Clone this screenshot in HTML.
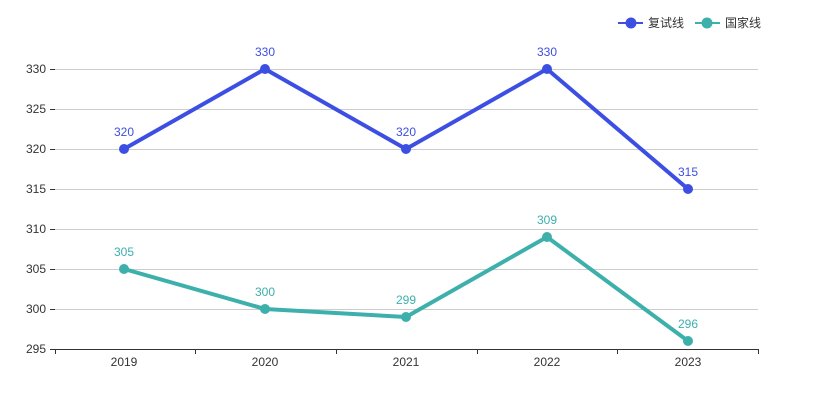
<!DOCTYPE html>
<html><head><meta charset="utf-8"><style>body{margin:0;background:#fff}svg{display:block}text{font-family:"Liberation Sans","Noto Sans CJK SC",sans-serif}</style></head><body>
<svg width="817" height="404" xmlns="http://www.w3.org/2000/svg">
<g stroke="#ccc" stroke-width="1">
<line x1="55" x2="758" y1="69.5" y2="69.5"/><line x1="55" x2="758" y1="109.5" y2="109.5"/><line x1="55" x2="758" y1="149.5" y2="149.5"/><line x1="55" x2="758" y1="189.5" y2="189.5"/><line x1="55" x2="758" y1="229.5" y2="229.5"/><line x1="55" x2="758" y1="269.5" y2="269.5"/><line x1="55" x2="758" y1="309.5" y2="309.5"/>
</g>
<g stroke="#333" stroke-width="1">
<line x1="55" x2="758" y1="349.5" y2="349.5"/>
<line x1="55.5" x2="55.5" y1="349" y2="354"/><line x1="195.5" x2="195.5" y1="349" y2="354"/><line x1="336.5" x2="336.5" y1="349" y2="354"/><line x1="477.5" x2="477.5" y1="349" y2="354"/><line x1="617.5" x2="617.5" y1="349" y2="354"/><line x1="758.5" x2="758.5" y1="349" y2="354"/>
<line x1="50" x2="55" y1="69.5" y2="69.5"/><line x1="50" x2="55" y1="109.5" y2="109.5"/><line x1="50" x2="55" y1="149.5" y2="149.5"/><line x1="50" x2="55" y1="189.5" y2="189.5"/><line x1="50" x2="55" y1="229.5" y2="229.5"/><line x1="50" x2="55" y1="269.5" y2="269.5"/><line x1="50" x2="55" y1="309.5" y2="309.5"/><line x1="50" x2="55" y1="349.5" y2="349.5"/>
</g>
<g font-size="12" fill="#333" text-anchor="end">
<text x="46" y="73">330</text><text x="46" y="113">325</text><text x="46" y="153">320</text><text x="46" y="193">315</text><text x="46" y="233">310</text><text x="46" y="273">305</text><text x="46" y="313">300</text><text x="46" y="353">295</text>
</g>
<g font-size="12" fill="#333" text-anchor="middle">
<text x="124" y="366">2019</text><text x="265" y="366">2020</text><text x="406" y="366">2021</text><text x="547" y="366">2022</text><text x="688" y="366">2023</text>
</g>
<polyline points="124,149 265,69 406,149 547,69 688,189" fill="none" stroke="#3d4fe3" stroke-width="4" stroke-linejoin="round"/>
<g fill="#3d4fe3"><circle cx="124" cy="149" r="5"/><circle cx="265" cy="69" r="5"/><circle cx="406" cy="149" r="5"/><circle cx="547" cy="69" r="5"/><circle cx="688" cy="189" r="5"/></g>
<g font-size="12" fill="#3d4fe3" text-anchor="middle"><text x="124" y="136">320</text><text x="265" y="56">330</text><text x="406" y="136">320</text><text x="547" y="56">330</text><text x="688" y="176">315</text></g>
<polyline points="124,269 265,309 406,317 547,237 688,341" fill="none" stroke="#3db0ac" stroke-width="4" stroke-linejoin="round"/>
<g fill="#3db0ac"><circle cx="124" cy="269" r="5"/><circle cx="265" cy="309" r="5"/><circle cx="406" cy="317" r="5"/><circle cx="547" cy="237" r="5"/><circle cx="688" cy="341" r="5"/></g>
<g font-size="12" fill="#3db0ac" text-anchor="middle"><text x="124" y="256">305</text><text x="265" y="296">300</text><text x="406" y="304">299</text><text x="547" y="224">309</text><text x="688" y="328">296</text></g>
<line x1="618" x2="643" y1="23" y2="23" stroke="#3d4fe3" stroke-width="2"/><circle cx="631" cy="23" r="5.5" fill="#3d4fe3"/>
<text x="648" y="27" font-size="12" fill="#333">复试线</text>
<line x1="695" x2="720" y1="23" y2="23" stroke="#3db0ac" stroke-width="2"/><circle cx="707" cy="23" r="5.5" fill="#3db0ac"/>
<text x="725" y="27" font-size="12" fill="#333">国家线</text>
</svg>
</body></html>
